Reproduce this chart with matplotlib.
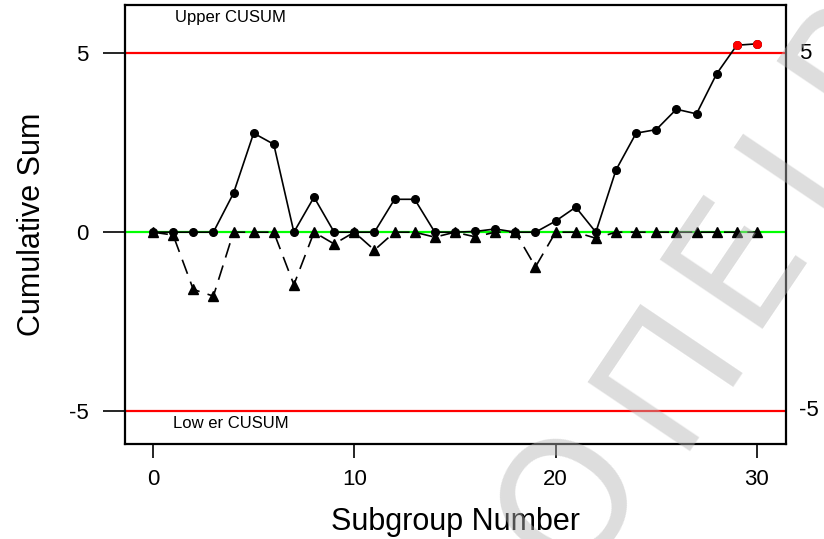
import numpy as np
import matplotlib
matplotlib.use("Agg")
import matplotlib.pyplot as plt
import matplotlib.transforms as mtransforms

plt.rcParams['font.family'] = ['Liberation Sans', 'DejaVu Sans']

# CUSUM data
subgroup = list(range(31))
upper_cusum = [0, 0, 0, 0, 1.09, 2.77, 2.46, 0, 0.98, 0, 0, 0, 0.92, 0.92, 0, 0,
               0.02, 0.09, 0, 0, 0.31, 0.70, 0, 1.74, 2.77, 2.87, 3.44, 3.31, 4.43, 5.23, 5.27]
lower_cusum = [0, -0.08, -1.60, -1.79, 0, 0, 0, -1.47, 0, -0.33, 0, -0.50, 0, 0, -0.14, 0,
               -0.13, 0, 0, -0.97, 0, 0, -0.17, 0, 0, 0, 0, 0, 0, 0, 0]
h_limit = 5
center = 0
x_ticks = [0, 10, 20, 30]
y_ticks = [-5, 0, 5]
watermark = ["Ο", "Π", "Ε", "Ι", "Ρ"]

x = np.array(subgroup)
up = np.array(upper_cusum)
lo = np.array(lower_cusum)

fig = plt.figure(figsize=(8.24, 5.39), dpi=100)
ax = fig.add_axes([0.1517, 0.176, 0.8023, 0.815])

ax.axhline(h_limit, color='#ff0000', lw=1.6, zorder=1)
ax.axhline(-h_limit, color='#ff0000', lw=1.6, zorder=1)
ax.axhline(center, color='#00ff00', lw=1.6, zorder=1)

ax.plot(x, up, color='black', lw=1.2, marker='o', ms=5.5, zorder=3)
out = up > h_limit
ax.plot(x[out], up[out], ls='none', marker='o', ms=5.5, color='#ff0000', zorder=4)
ax.plot(x, lo, color='black', lw=1.2, dashes=(9, 5), marker='^', ms=7, zorder=5)

ax.set_xlim(-1.39, 31.45)
ax.set_ylim(-5.93, 6.36)
ax.set_xticks(x_ticks)
ax.set_yticks(y_ticks)
ax.set_yticklabels([str(v) for v in y_ticks])
ax.tick_params(axis='y', length=16, width=1.2, pad=10, labelsize=16)
ax.tick_params(axis='x', length=10, width=1.2, pad=8, labelsize=16)
for s in ax.spines.values():
    s.set_linewidth(1.6)

# right-hand limit labels
trans = mtransforms.blended_transform_factory(ax.transAxes, ax.transData)
for v in [h_limit, -h_limit]:
    ax.text(1.02, v, str(v), transform=trans, ha='left', va='center', fontsize=16)

ax.text(1.1, 6.02, "Upper CUSUM", fontsize=12, ha='left', va='center')
ax.text(1.0, -5.35, "Low er CUSUM", fontsize=12, ha='left', va='center')

ax.set_xlabel("Subgroup Number", fontsize=22, labelpad=12)
ax.set_ylabel("Cumulative Sum", fontsize=22, labelpad=16)

# faint watermark letters across the lower right
wm_px = [(572, 500), (670, 372), (737, 258), (795, 170), (852, 62)]
for ch, (px, py) in zip(watermark, wm_px):
    fig.text(px / 824, 1 - py / 539, ch, fontsize=122, color='#b4b4b4', alpha=0.45,
             family=['DejaVu Sans'], rotation=56, ha='center', va='center', zorder=10)

fig.savefig("out.png", dpi=100)
